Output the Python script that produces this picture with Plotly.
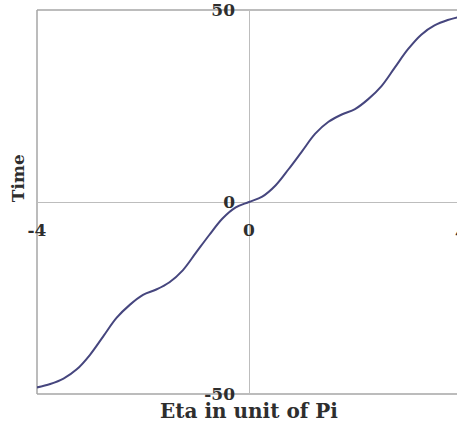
import plotly.graph_objects as go

# Data
eta = [-4.0, -3.75, -3.5, -3.25, -3.0, -2.75, -2.5, -2.25, -2.0, -1.75, -1.5, -1.25, -1.0,
       -0.75, -0.5, -0.25, 0.0, 0.25, 0.5, 0.75, 1.0, 1.25, 1.5, 1.75, 2.0, 2.25, 2.5,
       2.75, 3.0, 3.25, 3.5, 3.75, 4.0]
time = [-48.3, -47.4, -46.0, -43.6, -39.8, -35.0, -30.2, -26.8, -24.2, -22.8, -20.9, -17.8, -13.2,
        -8.6, -4.3, -1.4, 0.0, 1.4, 4.3, 8.6, 13.2, 17.8, 20.9, 22.8, 24.2, 26.8, 30.2,
        35.0, 39.8, 43.6, 46.0, 47.4, 48.3]

x_ticks = [-4, 0, 4]
x_tick_text = ["-4", "0", "4"]
y_ticks = [-50, 0, 50]
y_tick_text = ["-50", "0", "50"]

x_title = "Eta in unit of Pi"
y_title = "Time"

W, H = 457, 427
ML, MR, MT, MB = 37, 0, 10, 33
x_lo = -4.0
x_full = 8.0
plot_w = W - ML - MR
x_hi = x_lo + x_full * plot_w / 424.0
y_lo, y_hi = -50.02, 50.02

FONT = "DejaVu Serif"
TXT = "#2e2e2e"
FRAME = "#a6a6a6"
AXC = "#bdbdbd"

fig = go.Figure()
fig.add_trace(go.Scatter(
    x=eta, y=time, mode="lines",
    line=dict(color="#46467e", width=2, shape="spline", smoothing=1.0),
    hoverinfo="skip", showlegend=False, cliponaxis=True,
))

pos_x0 = (0 - x_lo) / (x_hi - x_lo)
pos_y0 = (0 - y_lo) / (y_hi - y_lo)

fig.update_layout(
    width=W, height=H,
    margin=dict(l=ML, r=MR, t=MT, b=MB, pad=0),
    paper_bgcolor="white", plot_bgcolor="white",
    showlegend=False,
    xaxis=dict(
        range=[x_lo, x_hi], showgrid=False, zeroline=True, zerolinecolor=AXC, zerolinewidth=1,
        showline=False, ticks="", tickvals=x_ticks, ticktext=x_tick_text,
        anchor="free", position=pos_y0, ticklabelstandoff=16, ticklabeloverflow="allow",
        tickfont=dict(family=FONT, size=17, color=TXT, weight="bold"),
        fixedrange=True,
    ),
    yaxis=dict(
        range=[y_lo, y_hi], showgrid=False, zeroline=True, zerolinecolor=AXC, zerolinewidth=1,
        showline=False, ticks="", tickvals=y_ticks, ticktext=y_tick_text,
        anchor="free", position=pos_x0, ticklabelstandoff=14, ticklabeloverflow="allow",
        tickfont=dict(family=FONT, size=17, color=TXT, weight="bold"),
        fixedrange=True,
    ),
)

# frame (left, top, bottom)
for x0, y0, x1, y1 in [(0, 0, 0, 1), (0, 1, 1, 1), (0, 0, 1, 0)]:
    fig.add_shape(type="line", xref="paper", yref="paper", x0=x0, y0=y0, x1=x1, y1=y1,
                  line=dict(color=FRAME, width=1.5), layer="below")

# partially visible "4" tick label on the right edge (beyond the visible plot range)
x4_paper = (x_ticks[2] - x_lo) / (x_hi - x_lo)
fig.add_annotation(x=x4_paper, y=0, xref="paper", yref="y", text=x_tick_text[2], showarrow=False,
                   xanchor="center", yanchor="top", yshift=-18,
                   font=dict(family=FONT, size=17, color=TXT, weight="bold"))

fig.add_annotation(x=0, y=0, xref="x", yref="paper", text=x_title, showarrow=False,
                   xanchor="center", yanchor="top", yshift=-3,
                   font=dict(family=FONT, size=20, color=TXT, weight="bold"))
fig.add_annotation(x=0, y=6.2, xref="paper", yref="y", text=y_title, showarrow=False,
                   textangle=-90, xanchor="center", yanchor="middle", xshift=-19,
                   font=dict(family=FONT, size=17, color=TXT, weight="bold"))

fig.write_html("out.html", config={"displayModeBar": False},
               post_script="document.body.style.margin='0';")
